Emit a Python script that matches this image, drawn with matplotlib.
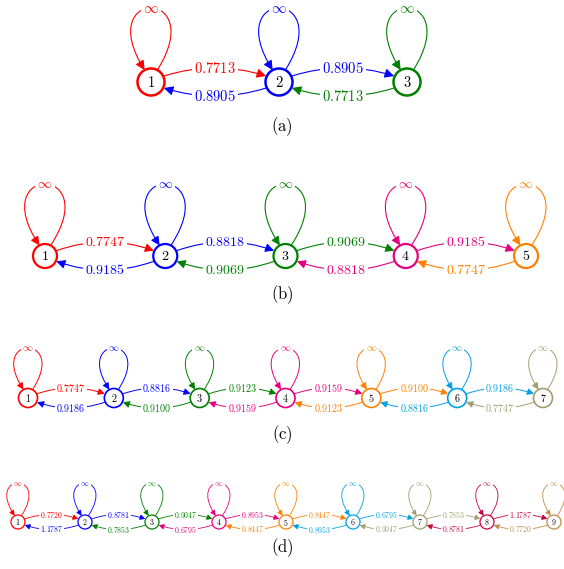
import numpy as np
import matplotlib.pyplot as plt
from matplotlib.patches import Circle, FancyArrowPatch
from matplotlib.path import Path

plt.rcParams['mathtext.fontset'] = 'cm'

# node colours, node k uses node_colors[k-1]
node_colors = ['#ff0000', '#0000ff', '#008000', '#e5007d', '#ff8000',
               '#00a0e3', '#a39e6f', '#c8003c', '#c48a48']

# edge weights: fwd[i] is edge i+1 -> i+2, back[i] is edge i+2 -> i+1
fwd_a = ['0.7713', '0.8905']
back_a = ['0.8905', '0.7713']
fwd_b = ['0.7747', '0.8818', '0.9069', '0.9185']
back_b = ['0.9185', '0.9069', '0.8818', '0.7747']
fwd_c = ['0.7747', '0.8816', '0.9123', '0.9159', '0.9100', '0.9186']
back_c = ['0.9186', '0.9100', '0.9159', '0.9123', '0.8816', '0.7747']
fwd_d = ['0.7720', '0.8781', '0.9047', '0.8953', '0.8447', '0.6795', '0.7853', '1.1787']
back_d = ['1.1787', '0.7853', '0.6795', '0.8447', '0.8953', '0.9047', '0.8781', '0.7720']
loop_label = r'$\infty$'
sub_labels = ['(a)', '(b)', '(c)', '(d)']

fig = plt.figure(figsize=(5.64, 5.69), dpi=100)
ax = fig.add_axes([0, 0, 1, 1])
ax.set_xlim(0, 564)
ax.set_ylim(569, 0)
ax.axis('off')


def label(x, y, s, c, fs):
    ax.text(x, y, s, color=c, fontsize=fs, ha='center', va='center', zorder=5,
            bbox=dict(boxstyle='square,pad=0.15', fc='white', ec='none'))


def draw_row(xs, y, r, fwd, back, lab_off, loop_h, loop_w, fs, lw_node, lw_edge, ms):
    n = len(xs)
    astyle = '-|>,head_length=0.4,head_width=0.2'
    # nodes + self loops
    for i in range(n):
        c = node_colors[i]
        x = xs[i]
        ax.add_patch(Circle((x, y), r, fill=False, ec=c, lw=lw_node, zorder=3))
        ax.text(x, y, f'${i+1}$', ha='center', va='center', fontsize=fs, zorder=4)
        a65 = np.deg2rad(62)
        y0 = y - r * np.sin(a65)
        peak = y - loop_h
        yc = (peak - 0.25 * y0) / 0.75
        a = (loop_w - 0.504 * r * np.cos(a65)) / 0.288
        verts = [(x + r * np.cos(a65), y0), (x + a, yc), (x - a, yc), (x - r * np.cos(a65), y0)]
        codes = [Path.MOVETO, Path.CURVE4, Path.CURVE4, Path.CURVE4]
        ax.add_patch(FancyArrowPatch(path=Path(verts, codes), arrowstyle=astyle,
                                     mutation_scale=ms, color=c, lw=lw_edge, zorder=2))
        label(x, peak, loop_label, c, fs)
    # edges between neighbours
    th = np.deg2rad(25)
    R = r * 1.05
    for i in range(n - 1):
        L = (xs[i + 1] - xs[i]) - 2 * R * np.cos(th)
        d = 2 * (lab_off - R * np.sin(th))
        rad = -d / L
        mid = 0.5 * (xs[i] + xs[i + 1])
        c = node_colors[i]
        ax.add_patch(FancyArrowPatch((xs[i] + R * np.cos(th), y - R * np.sin(th)),
                                     (xs[i + 1] - R * np.cos(th), y - R * np.sin(th)),
                                     connectionstyle=f'arc3,rad={rad}', arrowstyle=astyle,
                                     mutation_scale=ms, color=c, lw=lw_edge,
                                     shrinkA=0, shrinkB=0, zorder=2))
        label(mid, y - lab_off, f'${fwd[i]}$', c, fs)
        c = node_colors[i + 1]
        ax.add_patch(FancyArrowPatch((xs[i + 1] - R * np.cos(th), y + R * np.sin(th)),
                                     (xs[i] + R * np.cos(th), y + R * np.sin(th)),
                                     connectionstyle=f'arc3,rad={rad}', arrowstyle=astyle,
                                     mutation_scale=ms, color=c, lw=lw_edge,
                                     shrinkA=0, shrinkB=0, zorder=2))
        label(mid, y + lab_off, f'${back[i]}$', c, fs)


draw_row(np.linspace(151, 407, 3), 82, 13.5, fwd_a, back_a, 14, 74, 20, 10.5, 1.8, 0.8, 14)
draw_row(np.linspace(45, 526, 5), 256, 12, fwd_b, back_b, 14, 72, 20, 10, 1.6, 0.8, 13)
draw_row(np.linspace(28, 543, 7), 398, 9.5, fwd_c, back_c, 10, 50, 14, 7.2, 1.2, 0.7, 10)
draw_row(np.linspace(18, 554, 9), 522, 7, fwd_d, back_d, 7.5, 39, 11, 5.6, 0.9, 0.6, 8)

for s, yy in zip(sub_labels, [127, 295, 435, 548]):
    ax.text(282, yy, r'$\mathrm{' + s + '}$', ha='center', va='center', fontsize=12)

fig.savefig('out.png', dpi=100)
